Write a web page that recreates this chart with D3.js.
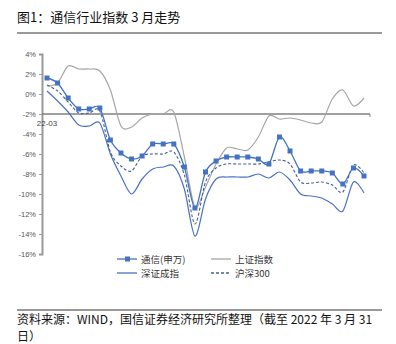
<!DOCTYPE html>
<html><head><meta charset="utf-8">
<script src="https://cdn.jsdelivr.net/npm/d3@7"></script>
<style>
body{margin:0;background:#fff;}
svg{display:block;font-family:"Noto Sans CJK SC","Noto Sans",sans-serif;}
</style></head>
<body><svg id="c" width="396" height="344"></svg>
<script>
const days = d3.range(1, 32).map(d => "03-" + String(d).padStart(2, "0"));
const xLabel = "22-03";
const yTicks = [4, 2, 0, -2, -4, -6, -8, -10, -12, -14, -16];
const telecom = [1.6, 1.1, -0.4, -1.5, -1.5, -1.4, -4.6, -5.9, -6.5, -6.2, -5.0, -5.0, -5.0, -7.3, -11.4, -7.8, -6.7, -6.3, -6.3, -6.3, -6.5, -7.0, -4.3, -5.7, -7.7, -7.7, -7.7, -7.9, -9.0, -7.4, -8.2];
const shanghai = [0.8, 1.1, 2.8, 2.5, 2.5, 2.3, 0.4, -3.2, -3.3, -2.4, -2.0, -2.0, -1.8, -6.3, -11.3, -9.3, -7.0, -5.4, -5.5, -5.6, -4.3, -2.2, -2.5, -2.4, -2.6, -2.9, -2.8, -0.5, 0.4, -1.2, -0.4];
const shenzhen = [0.3, -0.7, -1.8, -3.1, -3.2, -2.9, -6.0, -8.2, -10.0, -8.5, -7.5, -7.3, -7.2, -9.5, -14.2, -10.5, -8.5, -8.3, -8.3, -8.3, -8.0, -8.4, -7.8, -8.6, -10.0, -10.2, -10.4, -11.0, -11.7, -8.8, -9.9];
const csi300 = [0.9, 0.3, -0.8, -1.9, -1.9, -1.7, -5.8, -7.2, -7.7, -6.2, -6.0, -6.0, -5.8, -8.1, -13.0, -8.8, -7.4, -7.0, -7.0, -7.0, -7.0, -6.8, -6.6, -7.0, -8.8, -8.9, -8.8, -9.1, -9.8, -7.1, -7.9];
const seriesNames = ["通信(申万)", "上证指数", "深证成指", "沪深300"];
const titleText = "图1：通信行业指数 3 月走势";
const sourceLine1 = "资料来源：WIND，国信证券经济研究所整理（截至 2022 年 3 月 31";
const sourceLine2 = "日）";

const svg = d3.select("#c");
const x = d3.scalePoint().domain(days).range([47, 364]);
const y = d3.scaleLinear().domain([-16, 4]).range([254, 54]);

// title
svg.append("text").attr("x", 17).attr("y", 22).attr("font-size", 13).attr("fill", "#111").text(titleText);
svg.append("line").attr("x1", 17).attr("x2", 382).attr("y1", 33).attr("y2", 33).attr("stroke", "#999").attr("stroke-width", 2);

// y axis
const yAxis = d3.axisLeft(y).tickValues(yTicks).tickFormat(d => d + "%").tickSize(3).tickPadding(3);
const ga = svg.append("g").attr("transform", "translate(42,0)").call(yAxis);
ga.select(".domain").attr("stroke", "#999").attr("stroke-width", 2);
ga.selectAll(".tick line").attr("stroke", "#999");
ga.selectAll("text").attr("font-size", 7.5).attr("fill", "#555").attr("font-family", "Liberation Sans, Arial, sans-serif");

// baseline at -2%
svg.append("line").attr("x1", 42).attr("x2", 370).attr("y1", y(-2)).attr("y2", y(-2)).attr("stroke", "#808080").attr("stroke-width", 1.5);
svg.append("line").attr("x1", 370).attr("x2", 370).attr("y1", y(-2)).attr("y2", y(-2) + 3).attr("stroke", "#808080").attr("stroke-width", 1);
svg.append("text").attr("x", x(days[0])).attr("y", y(-2) + 12).attr("text-anchor", "middle").attr("font-size", 8).attr("fill", "#444").attr("font-family", "Liberation Sans, Arial, sans-serif").text(xLabel);

const line = d3.line().x((d, i) => x(days[i])).y(d => y(d)).curve(d3.curveCardinal.tension(0.1));

svg.append("path").datum(shanghai).attr("d", line).attr("fill", "none").attr("stroke", "#a6a6a6").attr("stroke-width", 1.2);
svg.append("path").datum(shenzhen).attr("d", line).attr("fill", "none").attr("stroke", "#4a72c0").attr("stroke-width", 1.2);
svg.append("path").datum(csi300).attr("d", line).attr("fill", "none").attr("stroke", "#44608f").attr("stroke-width", 1.1).attr("stroke-dasharray", "3,2");
svg.append("path").datum(telecom).attr("d", line).attr("fill", "none").attr("stroke", "#4472C4").attr("stroke-width", 1.3);
svg.append("g").selectAll("rect").data(telecom).join("rect")
  .attr("x", (d, i) => x(days[i]) - 2.5).attr("y", d => y(d) - 2.5).attr("width", 5).attr("height", 5).attr("fill", "#4472C4");

// legend
const leg = [
  {name: seriesNames[0], x: 117, y: 259, color: "#4472C4", dash: null, marker: true},
  {name: seriesNames[1], x: 211, y: 259, color: "#a6a6a6", dash: null, marker: false},
  {name: seriesNames[2], x: 117, y: 273, color: "#4a72c0", dash: null, marker: false},
  {name: seriesNames[3], x: 211, y: 273, color: "#44608f", dash: "3,2", marker: false}
];
const lg = svg.append("g").selectAll("g").data(leg).join("g");
lg.append("line").attr("x1", d => d.x).attr("x2", d => d.x + 20).attr("y1", d => d.y).attr("y2", d => d.y)
  .attr("stroke", d => d.color).attr("stroke-width", 1.3).attr("stroke-dasharray", d => d.dash);
lg.filter(d => d.marker).append("rect").attr("x", d => d.x + 8).attr("y", d => d.y - 2.5).attr("width", 5).attr("height", 5).attr("fill", d => d.color);
lg.append("text").attr("x", d => d.x + 24).attr("y", d => d.y + 3.5).attr("font-size", 9.5).attr("fill", "#333").text(d => d.name);

// source
svg.append("line").attr("x1", 17).attr("x2", 382).attr("y1", 310).attr("y2", 310).attr("stroke", "#999").attr("stroke-width", 2);
svg.append("text").attr("x", 17).attr("y", 324).attr("font-size", 12).attr("fill", "#111").text(sourceLine1);
svg.append("text").attr("x", 17).attr("y", 341).attr("font-size", 12).attr("fill", "#111").text(sourceLine2);
</script></body></html>
